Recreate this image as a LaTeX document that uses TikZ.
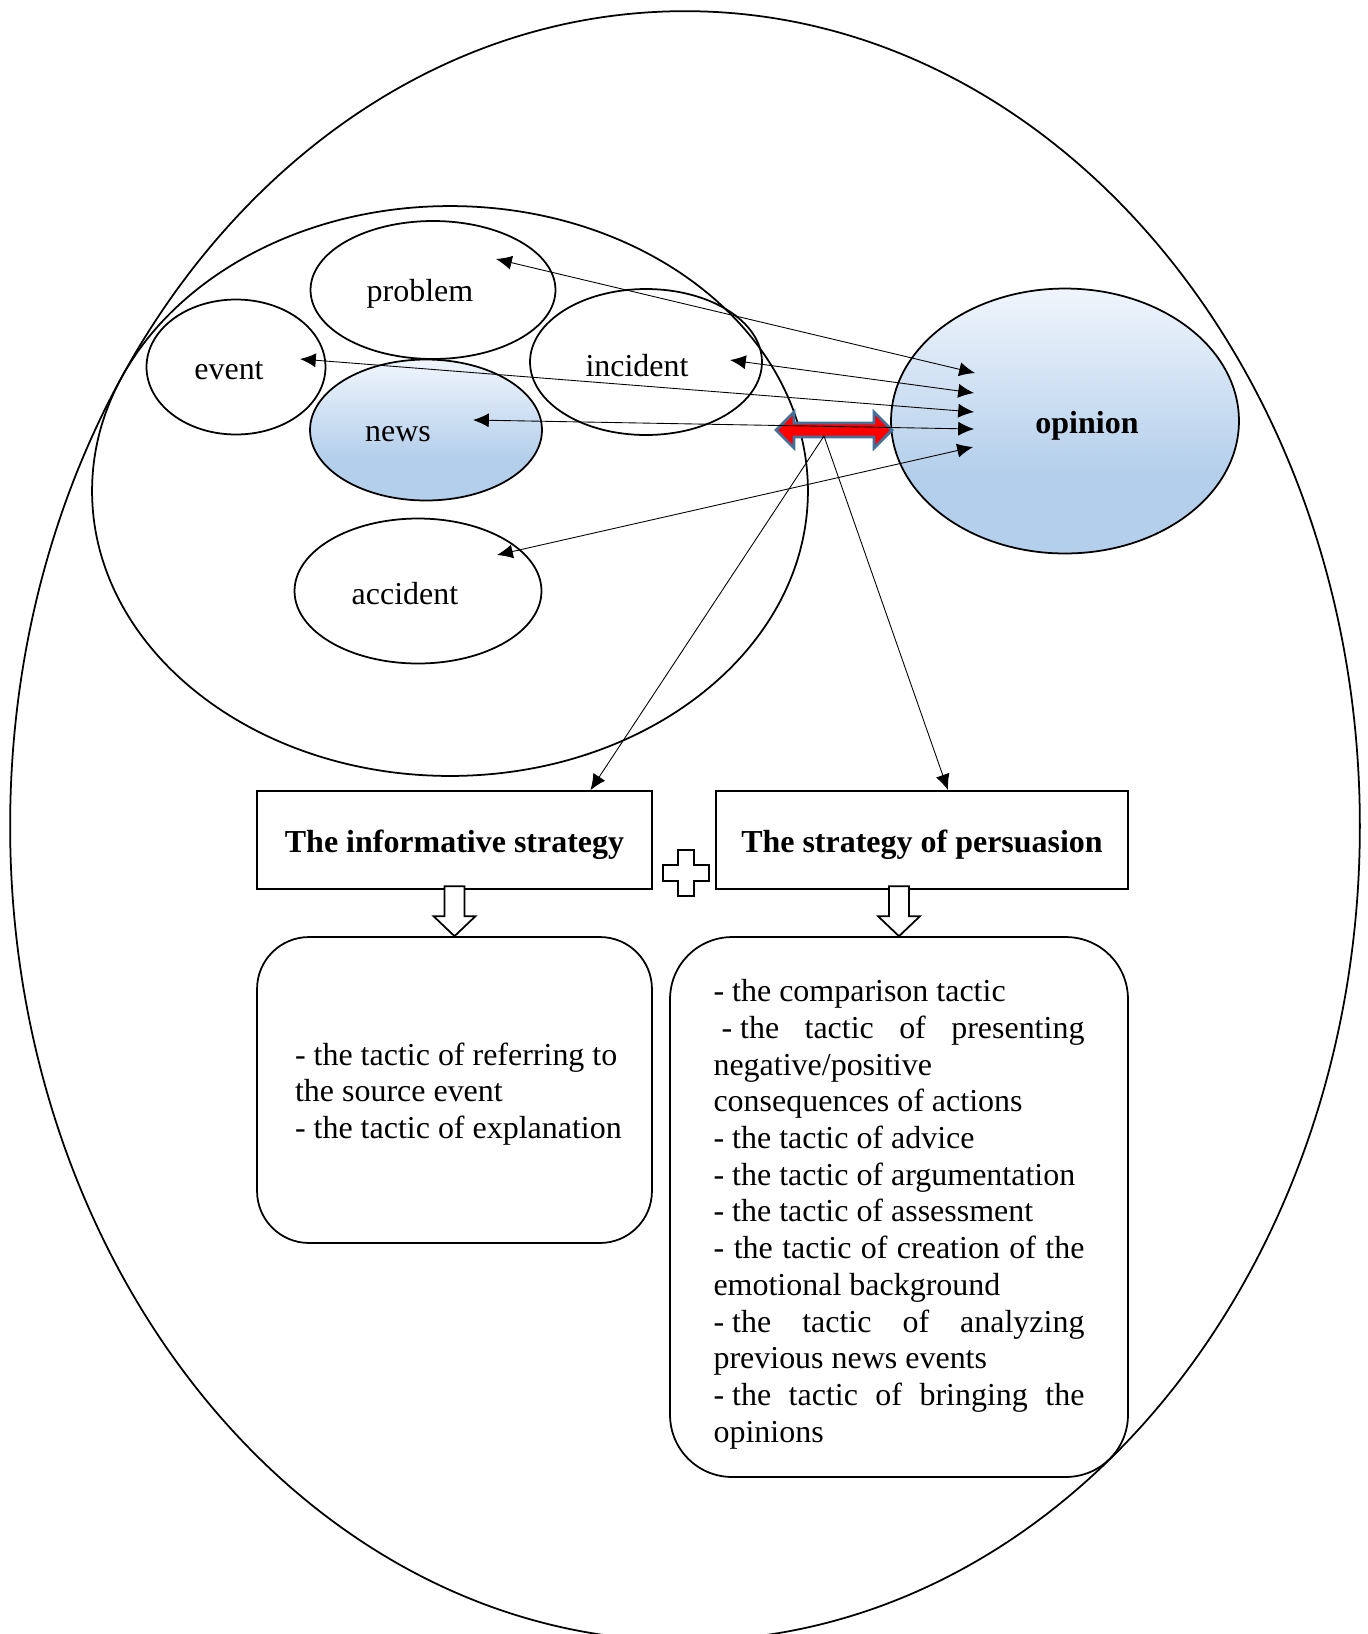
\documentclass[tikz,border=0pt]{standalone}
\usepackage{fontspec}
\setmainfont{Liberation Serif}
\usetikzlibrary{shapes.geometric, arrows.meta, calc}

\definecolor{shadetop}{RGB}{240,245,252}
\definecolor{shadebot}{RGB}{180,207,235}
\definecolor{arrowrim}{RGB}{65,113,156}
\pgfdeclareverticalshading{ovalshade}{100bp}{color(0bp)=(shadebot); color(40bp)=(shadebot); color(75bp)=(shadetop); color(100bp)=(shadetop)}

\newlength{\perswidth}
\setlength{\perswidth}{7.42cm}
\newcommand{\fullline}[1]{\makebox[\perswidth][s]{#1}}
\newcommand{\plainspaces}{\spaceskip=0pt\xspaceskip=0pt\hyphenpenalty=10000\relax}
\newcommand{\ind}{\hspace*{0.21cm}}

\begin{document}
\begin{tikzpicture}[x=0.02cm,y=-0.02cm,>={Latex[length=9pt,width=8pt]},
    every node/.style={font=\fontsize{18.2}{20.9}\selectfont},
    oval/.style={draw,ellipse,line width=1pt,inner sep=0pt},
    blueoval/.style={oval,shading=ovalshade},
    link/.style={<->,line width=0.5pt},
    stratbox/.style={draw,line width=1pt,minimum height=1.96cm,text height=0.63cm,font=\fontsize{18.2}{20.9}\selectfont\bfseries},
    tacbox/.style={draw,line width=1pt,align=left,inner sep=0pt},
    hollow/.style={draw,fill=white,line width=1pt}]
    % page area
    \useasboundingbox (0,0) rectangle (1368,1634);

    % draw the two big ellipses
    \draw[line width=1pt] (685,826) ellipse (13.5cm and 16.3cm);
    \draw[line width=1pt] (450,491) ellipse (7.16cm and 5.7cm);

    % the small ovals
    \node[oval,minimum width=4.9cm,minimum height=2.76cm] (problem) at (433,290) {};
    \node[oval,minimum width=3.58cm,minimum height=2.7cm] (event) at (236,367) {};
    \node[oval,minimum width=4.64cm,minimum height=2.92cm] (incident) at (646,362) {};
    \node[blueoval,minimum width=4.64cm,minimum height=2.82cm] (news) at (426,430) {};
    \node[oval,minimum width=4.94cm,minimum height=2.9cm] (accident) at (418,591) {};
    \node[blueoval,minimum width=6.96cm,minimum height=5.3cm] (opinion) at (1065,421) {};

    % text in the ovals
    \node (problemlbl) at (420,294) {problem};
    \node (eventlbl) at (229,371) {event};
    \node (incidentlbl) at (637,366) {incident};
    \node (newslbl) at (398,434) {news};
    \node (accidentlbl) at (405,594) {accident};
    \node[font=\fontsize{18.2}{20.9}\selectfont\bfseries] (opinionlbl) at (1087,426) {opinion};

    % red double arrow
    \draw[fill=red,draw=arrowrim,line width=1.6pt] (776,430) -- ++(18,-18) -- ++(0,11) -- ++(80,0) -- ++(0,-11) -- ++(18,18)
        -- ++(-18,18) -- ++(0,-11) -- ++(-80,0) -- ++(0,11) -- cycle;

    % end points of the links
    \coordinate (pr) at ($(problem)+(63,-31)$);
    \coordinate (in) at ($(incident)+(84,-2)$);
    \coordinate (ev) at ($(event)+(64,-8)$);
    \coordinate (ne) at ($(news)+(47,-10)$);
    \coordinate (ac) at ($(accident)+(79,-36)$);
    \coordinate (op1) at ($(opinion)+(-90,-48)$);
    \coordinate (op2) at ($(opinion)+(-91,-28)$);
    \coordinate (op3) at ($(opinion)+(-91,-9)$);
    \coordinate (op4) at ($(opinion)+(-91,8)$);
    \coordinate (op5) at ($(opinion)+(-92,26)$);

    % links to opinion
    \draw[link] (pr) -- (op1);
    \draw[link] (in) -- (op2);
    \draw[link] (ev) -- (op3);
    \draw[link] (ne) -- (op4);
    \draw[link] (ac) -- (op5);

    % the two strategies
    \node[stratbox,minimum width=7.9cm] (inform) at (454.5,840) {The informative strategy};
    \node[stratbox,minimum width=8.24cm] (persu) at (922,840) {The strategy of persuasion};

    % lines from the red arrow down to the strategies
    \coordinate (hub) at (824,436);
    \draw[->,line width=0.5pt] (hub) -- ([xshift=2.72cm]inform.north);
    \draw[->,line width=0.5pt] (hub) -- ([xshift=0.52cm]persu.north);

    % the tactics
    \node[tacbox,rounded corners=1.04cm,minimum width=7.9cm,minimum height=6.12cm,text width=6.8cm] (infotac) at (454.5,1090)
        {\plainspaces\rule{0pt}{17.3pt}\ind- the tactic of referring to\\\ind the source event\\\ind- the tactic of explanation};
    \node[tacbox,rounded corners=1.24cm,minimum width=9.16cm,minimum height=10.8cm,text width=\perswidth] (perstac) at (899,1207)
        {\plainspaces\rule{0pt}{20.8pt}- the comparison tactic\\
        \fullline{\hspace*{0.25em}-\hspace*{0.25em}the tactic of presenting}\\
        negative/positive\\
        consequences of actions\\
        - the tactic of advice\\
        - the tactic of argumentation\\
        - the tactic of assessment\\
        \fullline{-\hspace*{0.3em}the tactic of creation of the}\\
        emotional background\\
        \fullline{-\hspace*{0.25em}the tactic of analyzing}\\
        previous news events\\
        \fullline{-\hspace*{0.25em}the tactic of bringing the}\\
        opinions};

    % hollow arrows and the plus
    \draw[hollow] (infotac.north) -- ++(-21,-20) -- ++(11,0) -- ++(0,-30) -- ++(20,0) -- ++(0,30) -- ++(11,0) -- cycle;
    \draw[hollow] (perstac.north) -- ++(-21,-20) -- ++(11,0) -- ++(0,-30) -- ++(20,0) -- ++(0,30) -- ++(11,0) -- cycle;
    \coordinate (plus) at (686,873);
    \draw[hollow] (plus) ++(-8,-23) -- ++(16,0) -- ++(0,15) -- ++(15,0) -- ++(0,16) -- ++(-15,0) -- ++(0,15) -- ++(-16,0)
        -- ++(0,-15) -- ++(-15,0) -- ++(0,-16) -- ++(15,0) -- cycle;
\end{tikzpicture}
\end{document}
